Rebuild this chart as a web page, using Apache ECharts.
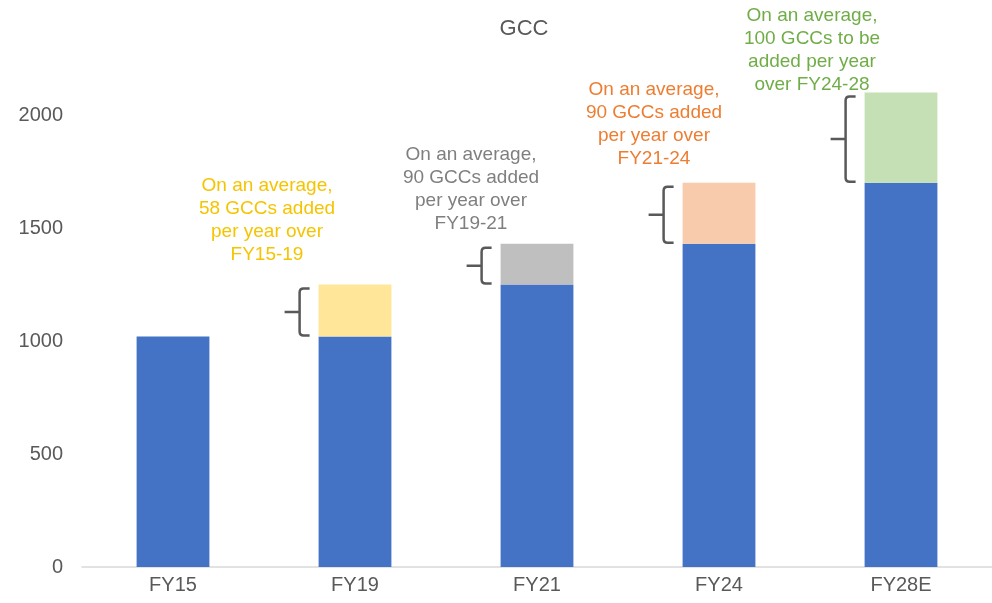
<!DOCTYPE html>
<html>
<head>
<meta charset="utf-8">
<script src="https://cdn.jsdelivr.net/npm/echarts@6/dist/echarts.min.js"></script>
<style>
  html, body { margin: 0; padding: 0; background: #fff; }
  #main { width: 992px; height: 603px; }
</style>
</head>
<body>
<div id="main"></div>
<script>
// data
var categories = ['FY15', 'FY19', 'FY21', 'FY24', 'FY28E'];
var baseValues = [1020, 1020, 1250, 1430, 1700];
var addedValues = [0, 230, 180, 270, 400];
var yTicks = [0, 500, 1000, 1500, 2000];
var notes = [
    '',
    'On an average,\n58 GCCs added\nper year over\nFY15-19',
    'On an average,\n90 GCCs added\nper year over\nFY19-21',
    'On an average,\n90 GCCs added\nper year over\nFY21-24',
    'On an average,\n100 GCCs to be\nadded per year\nover FY24-28'
];

// styles
var addedColors = ['#FFE699', '#FFE699', '#BFBFBF', '#F8CBAD', '#C5E0B4'];
var noteColors = ['#FFC000', '#F5C400', '#7F7F7F', '#ED7D31', '#70AD47'];
var noteDx = [0, -88, -66, -65, -89];
var noteDy = [0, -18, -9, -13, 4];
var FONT = '"Liberation Sans", Arial, sans-serif';

var chart = echarts.init(document.getElementById('main'));

var option = {
    animation: false,
    title: {
        text: 'GCC',
        left: 519,
        top: 13,
        textAlign: 'center',
        textStyle: { fontFamily: FONT, fontSize: 22, fontWeight: 'normal', color: '#595959' }
    },
    grid: { left: 82, top: 2, width: 918, height: 565 },
    xAxis: {
        type: 'category',
        data: categories,
        axisLine: { lineStyle: { color: '#D9D9D9', width: 1.5 } },
        axisTick: { show: false },
        axisLabel: { fontFamily: FONT, fontSize: 20, color: '#595959', margin: 8 }
    },
    yAxis: {
        type: 'value',
        min: 0,
        max: 2500,
        interval: 500,
        splitLine: { show: false },
        axisLine: { show: false },
        axisTick: { show: false },
        axisLabel: {
            fontFamily: FONT, fontSize: 20, color: '#595959', margin: 19,
            formatter: function (v) { return yTicks.indexOf(v) >= 0 ? String(v) : ''; }
        }
    },
    series: [
        {
            type: 'bar',
            stack: 'gcc',
            barWidth: '40%',
            data: baseValues,
            itemStyle: { color: '#4472C4' }
        },
        {
            type: 'bar',
            stack: 'gcc',
            data: addedValues.map(function (v, i) {
                return { value: v, itemStyle: { color: addedColors[i] } };
            })
        },
        {
            // curly braces beside each added block
            type: 'custom',
            silent: true,
            data: categories.map(function (c, i) { return [i, baseValues[i], addedValues[i]]; }),
            renderItem: function (params, api) {
                var i = api.value(0);
                var add = api.value(2);
                if (!add) return null;
                var bot = api.coord([i, api.value(1)]);
                var top = api.coord([i, api.value(1) + add]);
                var barW = api.size([1, 0])[0] * 0.4;
                var left = bot[0] - barW / 2;
                var xr = left - 9, xv = left - 19, xt = left - 34;
                var yt = top[1] + 4, yb = bot[1] - 1, ym = (yt + yb) / 2;
                var r = 4;
                var path = 'M' + xr + ' ' + yt + ' L' + (xv + r) + ' ' + yt +
                    ' Q' + xv + ' ' + yt + ' ' + xv + ' ' + (yt + r) +
                    ' L' + xv + ' ' + (yb - r) +
                    ' Q' + xv + ' ' + yb + ' ' + (xv + r) + ' ' + yb +
                    ' L' + xr + ' ' + yb +
                    ' M' + xv + ' ' + ym + ' L' + xt + ' ' + ym;
                return {
                    type: 'path',
                    shape: { pathData: path },
                    style: { fill: 'none', stroke: '#595959', lineWidth: 2.5 }
                };
            },
            z: 3
        },
        {
            // annotations above the bars
            type: 'custom',
            silent: true,
            data: categories.map(function (c, i) { return [i, baseValues[i] + addedValues[i]]; }),
            renderItem: function (params, api) {
                var i = api.value(0);
                if (!notes[i]) return null;
                var p = api.coord([i, api.value(1)]);
                return {
                    type: 'text',
                    x: p[0] + noteDx[i],
                    y: p[1] + noteDy[i],
                    style: {
                        text: notes[i],
                        fill: noteColors[i],
                        font: '19px ' + FONT,
                        lineHeight: 23,
                        align: 'center',
                        verticalAlign: 'bottom'
                    }
                };
            },
            z: 4
        }
    ]
};

chart.setOption(option);
window.onresize = function () {
    chart.resize();
};
</script>
</body>
</html>
